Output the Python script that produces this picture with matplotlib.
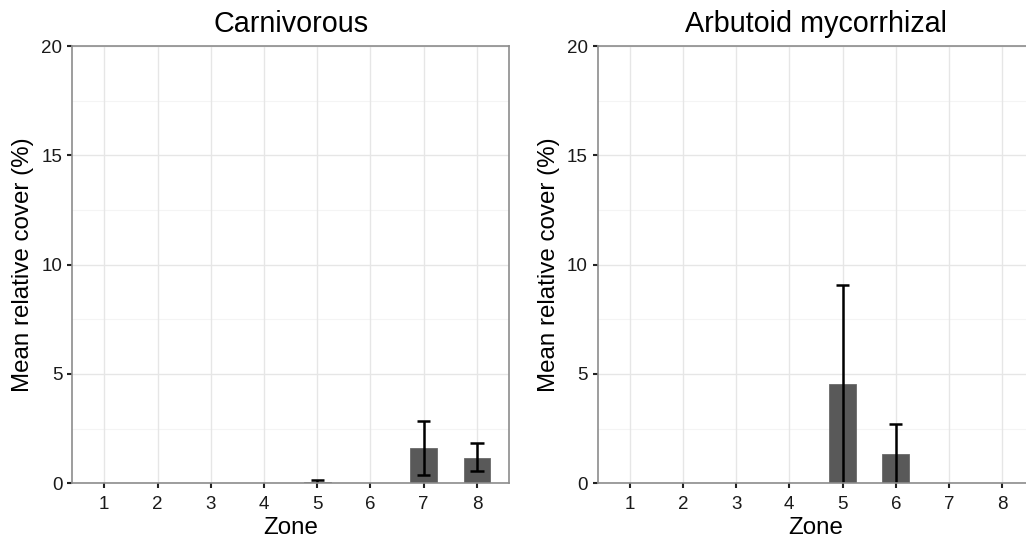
import matplotlib
matplotlib.use("Agg")
import matplotlib.pyplot as plt
import numpy as np

plt.rcParams['font.family'] = ['Liberation Sans', 'DejaVu Sans']

zones = [1, 2, 3, 4, 5, 6, 7, 8]
zone_labels = ["1", "2", "3", "4", "5", "6", "7", "8"]

carnivorous_mean = [0, 0, 0, 0, 0.06, 0, 1.60, 1.17]
carnivorous_lower = [0, 0, 0, 0, 0, 0, 0.37, 0.56]
carnivorous_upper = [0, 0, 0, 0, 0.15, 0, 2.87, 1.84]

arbutoid_mean = [0, 0, 0, 0, 4.53, 1.36, 0, 0]
arbutoid_lower = [0, 0, 0, 0, 0, 0, 0, 0]
arbutoid_upper = [0, 0, 0, 0, 9.09, 2.71, 0, 0]

panel_titles = ["Carnivorous", "Arbutoid mycorrhizal"]
y_ticks = [0, 5, 10, 15, 20]

fig = plt.figure(figsize=(10.26, 5.42), dpi=100)
ax_w, ax_h = 0.4255, 0.8068
positions = [[0.0705, 0.1083, ax_w, ax_h], [0.5825, 0.1083, ax_w, ax_h]]

panels = [
    (carnivorous_mean, carnivorous_lower, carnivorous_upper),
    (arbutoid_mean, arbutoid_lower, arbutoid_upper),
]

bar_width = 0.5
cap_half = 0.125

for pos, title, (mean, lo, hi) in zip(positions, panel_titles, panels):
    ax = fig.add_axes(pos)
    x = np.array(zones, dtype=float)
    mean = np.array(mean)
    lo = np.array(lo)
    hi = np.array(hi)

    # grid: major and minor lines like a bw theme
    for v in [2.5, 7.5, 12.5, 17.5]:
        ax.axhline(v, color="#f4f4f4", lw=0.8, zorder=0)
    for v in y_ticks:
        ax.axhline(v, color="#e6e6e6", lw=1.0, zorder=0)
    for v in zones:
        ax.axvline(v, color="#e6e6e6", lw=1.0, zorder=0)

    ax.bar(x, mean, width=bar_width, color="#595959", edgecolor="#6a6a6a",
           linewidth=0.6, zorder=2)

    # error bars only where there is a spread; caps at zero sit under the axis
    has_err = hi > 0
    xe, lo_e, hi_e = x[has_err], lo[has_err], hi[has_err]
    ax.vlines(xe, lo_e, hi_e, color="black", lw=1.8, zorder=3)
    ax.hlines(hi_e, xe - cap_half, xe + cap_half, color="black", lw=1.8, zorder=3)
    low_cap = lo_e > 0
    ax.hlines(lo_e[low_cap], xe[low_cap] - cap_half, xe[low_cap] + cap_half,
              color="black", lw=1.8, zorder=3)

    ax.set_xlim(0.4, 8.6)
    ax.set_ylim(0, 20)
    ax.set_xticks(zones)
    ax.set_xticklabels(zone_labels)
    ax.set_yticks(y_ticks)

    for side in ["top", "right", "bottom", "left"]:
        ax.spines[side].set_color("#8c8c8c")
        ax.spines[side].set_linewidth(1.2)
        ax.spines[side].set_zorder(4)

    ax.tick_params(axis="both", direction="out", length=3.8, width=1.5,
                   color="#222222", labelsize=13.5, labelcolor="#1a1a1a")
    ax.tick_params(axis="x", pad=5.5)
    ax.tick_params(axis="y", pad=3.4)
    ax.set_xlabel("Zone", fontsize=17.4, labelpad=3, color="black")
    ax.set_ylabel("Mean relative cover (%)", fontsize=17.4, labelpad=5,
                  color="black")
    ax.set_title(title, fontsize=20.7, pad=10, color="black")

fig.savefig("out.png", dpi=100)
